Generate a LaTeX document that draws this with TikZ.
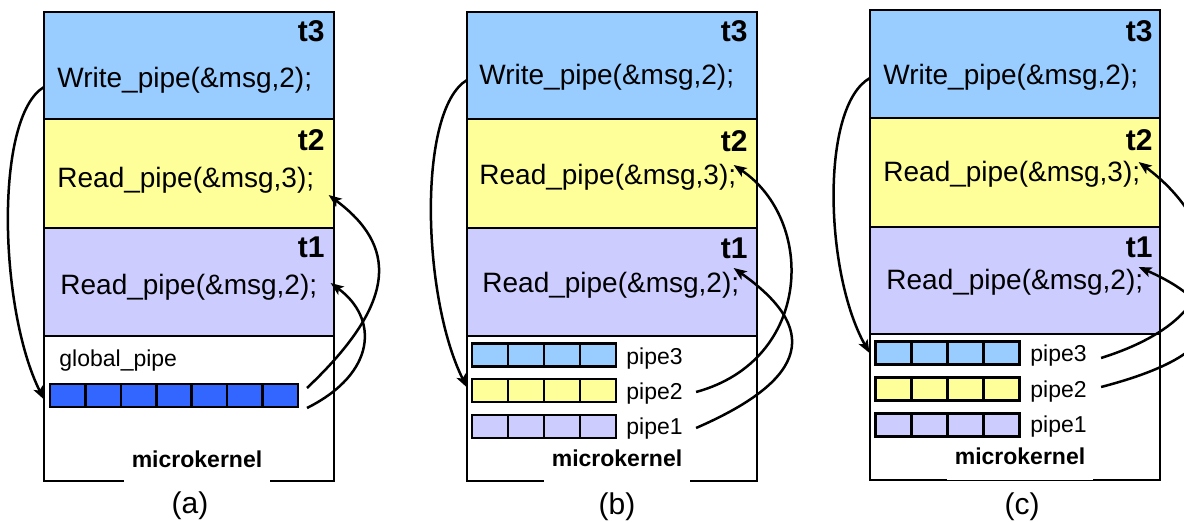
\documentclass[tikz,border=0pt]{standalone}
\usepackage{fontspec}
\setmainfont{Liberation Sans}
\usetikzlibrary{calc,arrows.meta}
\definecolor{cthree}{RGB}{153,204,255}
\definecolor{ctwo}{RGB}{255,255,153}
\definecolor{cone}{RGB}{204,204,255}
\definecolor{pblue}{RGB}{51,102,255}
\tikzset{
 sec/.style={draw, line width=1.35pt, outer sep=0pt, inner sep=0pt, minimum width=145pt, anchor=north west},
 code/.style={inner sep=0pt, anchor=base west, font=\fontsize{14pt}{16pt}\selectfont},
 tlab/.style={inner sep=0pt, anchor=base east, font=\fontsize{15pt}{17pt}\selectfont\bfseries},
 pipebar/.style={draw, line width=1.3pt, outer sep=0pt, inner sep=0pt, minimum width=72pt, minimum height=11.5pt},
 divider/.style={line width=1.3pt},
 plab/.style={inner sep=0pt, anchor=base west, font=\fontsize{11.5pt}{13pt}\selectfont},
 kern/.style={fill=white, inner xsep=3.75pt, inner ysep=7.5pt, anchor=base, font=\fontsize{11.5pt}{13pt}\selectfont\bfseries},
 capt/.style={anchor=base, inner sep=0pt, font=\fontsize{15pt}{17pt}\selectfont},
 conn/.style={line width=1.25pt, -{Stealth[length=6.5pt,width=5pt,inset=1.5pt]}},
}
\begin{document}
\begin{tikzpicture}[x=0.5pt,y=-0.5pt]
\useasboundingbox (0,0) rectangle (1184,522);
\clip (0,0) rectangle (1184,522);
% ---------------- panel (a)
\node[sec, fill=cthree, minimum height=53.5pt] (a3) at (44,12) {};
\node[sec, fill=ctwo, minimum height=54.5pt] (a2) at (a3.south west) {};
\node[sec, fill=cone, minimum height=54pt] (a1) at (a2.south west) {};
\node[sec, fill=white, minimum height=72.5pt] (ak) at (a1.south west) {};
\node[kern] (akl) at (197,468) {microkernel};
\node[tlab] (a3l) at (325,42) {t3};
\node[tlab] (a2l) at (325,151) {t2};
\node[tlab] (a1l) at (325,258) {t1};
\node[code] (at3) at (57,88) {Write\_pipe(\&msg,2);};
\node[code] (at2) at (57,188) {Read\_pipe(\&msg,3);};
\node[code] (at1) at (60,295) {Read\_pipe(\&msg,2);};
\node[plab] (agl) at (59,367) {global\_pipe};
\node[pipebar, fill=pblue, minimum width=124pt] (pa) at (174,395.5) {};
\foreach \i in {1,...,6}
  \draw[divider] ($(pa.north west)!\i/7!(pa.north east)$) -- ($(pa.south west)!\i/7!(pa.south east)$);
\node[capt] (acap) at (190,514) {(a)};
\draw[conn] ($(at3.base west)+(-13,-1)$) .. controls +(-50,30) and +(-45,-90) .. ($(pa.west)+(-6,4)$);
\draw[conn] ($(pa.east)+(9,-7.5)$) .. controls +(93,-88) and +(67,50) .. ($(at2.base east)+(14,7)$);
\draw[conn] ($(pa.east)+(9,12.5)$) .. controls +(70,-35) and +(48,35) .. ($(at1.base east)+(13,-12)$);
% ---------------- panel (b)
\node[sec, fill=cthree, minimum height=53.5pt] (b3) at (467,12) {};
\node[sec, fill=ctwo, minimum height=54.5pt] (b2) at (b3.south west) {};
\node[sec, fill=cone, minimum height=54pt] (b1) at (b2.south west) {};
\node[sec, fill=white, minimum height=72.5pt] (bk) at (b1.south west) {};
\node[kern] (bkl) at (617,467) {microkernel};
\node[tlab] (b3l) at (748,42) {t3};
\node[tlab] (b2l) at (748,152) {t2};
\node[tlab] (b1l) at (748,259) {t1};
\node[code] (bt3) at (479,85) {Write\_pipe(\&msg,2);};
\node[code] (bt2) at (479,185) {Read\_pipe(\&msg,3);};
\node[code] (bt1) at (482,293) {Read\_pipe(\&msg,2);};
\node[pipebar, fill=cthree] (pb3) at (544,355) {};
\node[pipebar, fill=ctwo] (pb2) at (544,390.5) {};
\node[pipebar, fill=cone] (pb1) at (544,426.5) {};
\foreach \p in {pb3,pb2,pb1}
  \foreach \i in {1,2,3}
    \draw[divider] ($(\p.north west)!\i/4!(\p.north east)$) -- ($(\p.south west)!\i/4!(\p.south east)$);
\node[plab] (bl3) at (626,365) {pipe3};
\node[plab] (bl2) at (626,400) {pipe2};
\node[plab] (bl1) at (626,435) {pipe1};
\node[capt] (bcap) at (617,515) {(b)};
\draw[conn] ($(bt3.base west)+(-12,-5)$) .. controls +(-50,30) and +(-45,-90) .. ($(pb2.west)+(-5,-3)$);
\draw[conn] ($(bl2.base east)+(13,-8)$) .. controls +(117,-32) and +(82,55) .. ($(bt2.base east)+(-3,-20)$);
\draw[conn] ($(bl1.base east)+(13,-7)$) .. controls +(115,-50) and +(85,60) .. ($(bt1.base east)+(-6,-25)$);
% ---------------- panel (c)
\node[sec, fill=cthree, minimum height=54pt] (c3) at (870,10) {};
\node[sec, fill=ctwo, minimum height=54.5pt] (c2) at (c3.south west) {};
\node[sec, fill=cone, minimum height=53.5pt] (c1) at (c2.south west) {};
\node[sec, fill=white, minimum height=73pt] (ck) at (c1.south west) {};
\node[kern] (ckl) at (1020,465) {microkernel};
\node[tlab] (c3l) at (1153,42) {t3};
\node[tlab] (c2l) at (1153,151) {t2};
\node[tlab] (c1l) at (1153,258) {t1};
\node[code] (ct3) at (883,85) {Write\_pipe(\&msg,2);};
\node[code] (ct2) at (883,182) {Read\_pipe(\&msg,3);};
\node[code] (ct1) at (886,290) {Read\_pipe(\&msg,2);};
\node[pipebar, fill=cthree] (pc3) at (947.5,353) {};
\node[pipebar, fill=ctwo] (pc2) at (947.5,389) {};
\node[pipebar, fill=cone] (pc1) at (947.5,425) {};
\foreach \p in {pc3,pc2,pc1}
  \foreach \i in {1,2,3}
    \draw[divider] ($(\p.north west)!\i/4!(\p.north east)$) -- ($(\p.south west)!\i/4!(\p.south east)$);
\node[plab] (cl3) at (1030,362) {pipe3};
\node[plab] (cl2) at (1030,398) {pipe2};
\node[plab] (cl1) at (1030,433) {pipe1};
\node[capt] (ccap) at (1022,515) {(c)};
\draw[conn] ($(ct3.base west)+(-13,-7)$) .. controls +(-50,28) and +(-45,-80) .. ($(pc3.west)+(-6,0)$);
\draw[conn] ($(cl3.base east)+(14,-4)$) .. controls +(152,-48) and +(72,53) .. ($(ct2.base east)+(-2,-20)$);
\draw[conn] ($(cl2.base east)+(14,-11)$) .. controls +(142,-37) and +(82,36) .. ($(ct1.base east)+(-5,-23)$);
\end{tikzpicture}
\end{document}
